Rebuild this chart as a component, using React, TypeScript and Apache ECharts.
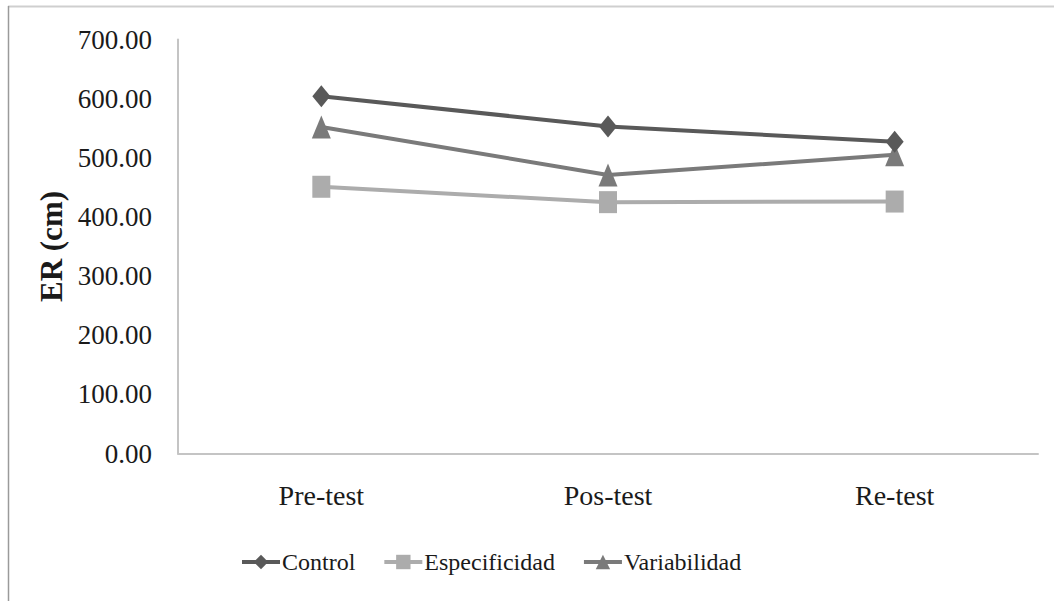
import React, { useEffect, useRef } from "react";
import * as echarts from "echarts";

const categories = ["Pre-test", "Pos-test", "Re-test"];
const controlValues = [604, 553, 527];
const especificidadValues = [451, 425, 426];
const variabilidadValues = [552, 471, 505];
const seriesNames = ["Control", "Especificidad", "Variabilidad"];
const yTicks = { min: 0, max: 700, interval: 100 };

const FONT = "Liberation Serif";

export default function App() {
  const ref = useRef<HTMLDivElement>(null);
  useEffect(() => {
    if (!ref.current) return;
    const chart = echarts.init(ref.current, undefined, { renderer: "svg" });
    chart.setOption({
      animation: false,
      backgroundColor: "#ffffff",
      textStyle: { fontFamily: FONT },
      graphic: [
        { type: "line", shape: { x1: 8, y1: 6.5, x2: 1054, y2: 6.5 }, style: { stroke: "#cfcfcf", lineWidth: 2 } },
        { type: "line", shape: { x1: 8.5, y1: 6, x2: 8.5, y2: 601 }, style: { stroke: "#9a9a9a", lineWidth: 1.5 } },
      ],
      grid: { left: 178, right: 16, top: 39.5, bottom: 147.5, containLabel: false },
      legend: {
        left: 235,
        top: 545,
        itemWidth: 38,
        itemHeight: 18,
        itemGap: 27,
        lineStyle: { width: 4 },
        textStyle: { fontFamily: FONT, fontSize: 24, color: "#1a1a1a", padding: [0, 0, 0, -3] },
        data: seriesNames,
      },
      xAxis: {
        type: "category",
        data: categories,
        boundaryGap: true,
        axisLine: { show: true, lineStyle: { color: "#c4c4c4", width: 2 } },
        axisTick: { show: false },
        axisLabel: { fontFamily: FONT, fontSize: 28, color: "#1a1a1a", margin: 28 },
        splitLine: { show: false },
      },
      yAxis: {
        type: "value",
        min: yTicks.min,
        max: yTicks.max,
        interval: yTicks.interval,
        name: "ER (cm)",
        nameLocation: "middle",
        nameGap: 105,
        nameRotate: 90,
        nameTextStyle: { fontFamily: FONT, fontSize: 31, fontWeight: "bold", color: "#1a1a1a" },
        axisLine: { show: true, lineStyle: { color: "#c4c4c4", width: 2 } },
        axisTick: { show: false },
        axisLabel: {
          fontFamily: FONT,
          fontSize: 27,
          color: "#1a1a1a",
          margin: 26,
          formatter: (v: number) => v.toFixed(2),
        },
        splitLine: { show: false },
      },
      series: [
        {
          name: seriesNames[0],
          type: "line",
          data: controlValues,
          symbol: "diamond",
          symbolSize: [18, 22],
          z: 3,
          lineStyle: { color: "#595959", width: 4 },
          itemStyle: { color: "#595959" },
        },
        {
          name: seriesNames[1],
          type: "line",
          data: especificidadValues,
          symbol: "rect",
          symbolSize: [18, 22],
          z: 2,
          lineStyle: { color: "#acacac", width: 4 },
          itemStyle: { color: "#acacac" },
        },
        {
          name: seriesNames[2],
          type: "line",
          data: variabilidadValues,
          symbol: "triangle",
          symbolSize: [19, 23],
          z: 2,
          lineStyle: { color: "#7a7a7a", width: 4 },
          itemStyle: { color: "#7a7a7a" },
        },
      ],
    });
    return () => chart.dispose();
  }, []);
  return (
    <div
      ref={ref}
      style={{ position: "fixed", left: 0, top: 0, width: 1054, height: 601, background: "#fff" }}
    />
  );
}
